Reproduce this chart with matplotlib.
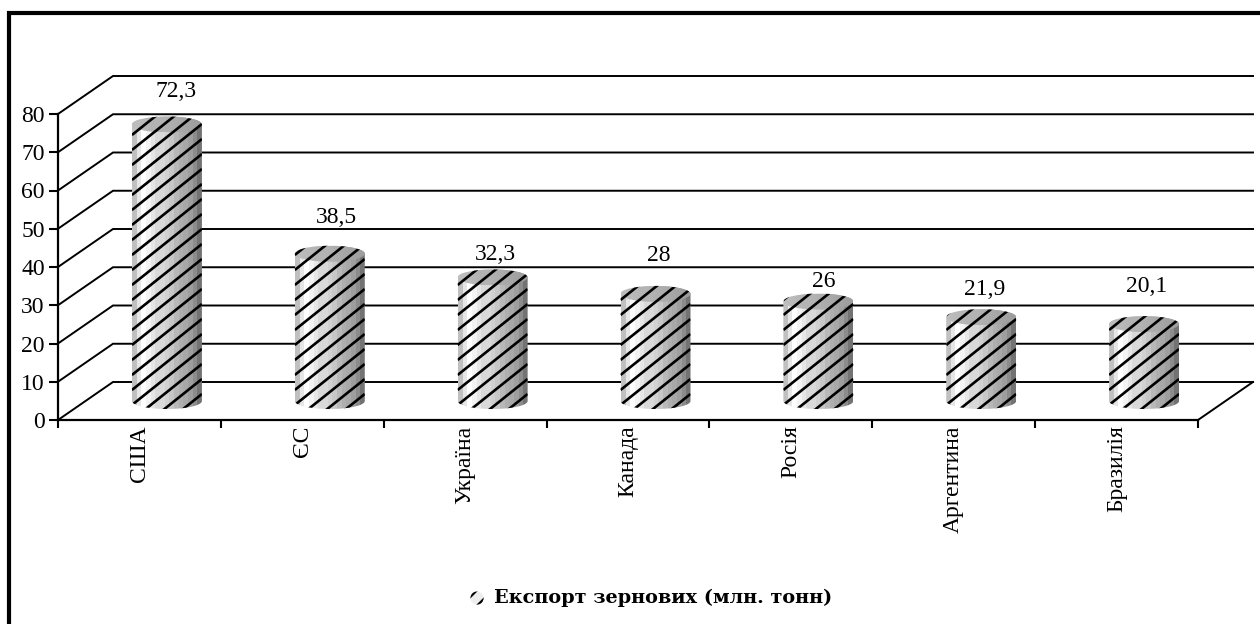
import numpy as np
import matplotlib
matplotlib.use("Agg")
import matplotlib.pyplot as plt
from matplotlib.patches import PathPatch, Rectangle
from matplotlib.path import Path

# значення з діаграми
countries = ["США", "ЄС", "Україна", "Канада", "Росія", "Аргентина", "Бразилія"]
export_values = [72.3, 38.5, 32.3, 28, 26, 21.9, 20.1]
value_labels = ["72,3", "38,5", "32,3", "28", "26", "21,9", "20,1"]
y_ticks = [0, 10, 20, 30, 40, 50, 60, 70, 80]
legend_label = "Експорт зернових (млн. тонн)"

# зсуви підписів над циліндрами (пікселі відносно верху)
label_dx = [9, 7, 3, 3, 5, 3, 3]
label_dy = [33, 36, 23, 38, 20, 28, 38]

W, H = 1260, 624
PX_X = 1 / 162.86       # один піксель в одиницях категорій
PX_Y = 1 / 3.825        # один піксель в одиницях значень
DEPTH_X = 55 * PX_X     # глибина "підлоги"
DEPTH_Y = 38 * PX_Y
BAR_HW = 35 * PX_X
BAR_HH = 8 * PX_Y
STRIPE_STEP = 15 * PX_Y  # крок смуг по вертикалі
STRIPE_RISE = 0.8 * PX_Y / PX_X

plt.rcParams["font.family"] = ["Liberation Serif", "DejaVu Serif"]
plt.rcParams["hatch.linewidth"] = 2.2

fig = plt.figure(figsize=(W / 100, H / 100), dpi=100)
ax = fig.add_axes([58 / W, 1 - 420 / H, (1198 - 58) / W, (420 - 114) / H])
ax.set_xlim(0, len(countries))
ax.set_ylim(0, 80)

# рамка, обрізана правим і нижнім краями
fig.add_artist(Rectangle((9 / W, -0.05), 1.1, 1.05 - 13 / H, transform=fig.transFigure,
                         fill=False, ec="black", lw=3))

# "стіна" та бокові лінії
for v in y_ticks:
    ax.plot([0, DEPTH_X, len(countries) + DEPTH_X], [v, v + DEPTH_Y, v + DEPTH_Y],
            color="black", lw=1.4, clip_on=False, zorder=1, solid_joinstyle="miter")
ax.plot([len(countries), len(countries) + DEPTH_X], [0, DEPTH_Y], color="black", lw=1.4,
        clip_on=False, zorder=1)

# градієнт бокової поверхні циліндра, грані видно як смуги
shade = np.array([0.75, 0.90, 1.0, 0.95, 0.90, 0.85, 0.85, 0.82, 0.78, 0.72, 0.68,
                  0.66, 0.62, 0.55, 0.45])[None, :]
top_shade = np.array([0.74, 0.72, 0.70, 0.70, 0.68, 0.66, 0.64, 0.62])[None, :]

t = np.linspace(0, np.pi, 40)
for i, val in enumerate(export_values):
    cx = i + 0.5 + DEPTH_X / 2
    base = DEPTH_Y / 2
    top = val + base
    x_l, x_r = cx - BAR_HW, cx + BAR_HW

    xs = np.r_[cx - BAR_HW * np.cos(t), cx + BAR_HW * np.cos(t)]
    ys = np.r_[base - BAR_HH * np.sin(t), top + BAR_HH * np.sin(t)]
    body = Path(np.c_[xs, ys])
    body_patch = PathPatch(body, transform=ax.transData, fc="none", ec="none")
    ax.add_patch(body_patch)
    im = ax.imshow(shade, cmap="gray", vmin=0, vmax=1, aspect="auto", interpolation="nearest",
                   extent=(x_l, x_r, base - BAR_HH, top + BAR_HH), zorder=2)
    im.set_clip_path(body_patch)

    # верхня кришка
    lid = Path(np.c_[cx + BAR_HW * np.cos(2 * t), top + BAR_HH * np.sin(2 * t)])
    lid_patch = PathPatch(lid, transform=ax.transData, fc="none", ec="none")
    ax.add_patch(lid_patch)
    im2 = ax.imshow(top_shade, cmap="gray", vmin=0, vmax=1, aspect="auto", interpolation="bilinear",
                    extent=(x_l, x_r, top - BAR_HH, top + BAR_HH), zorder=3)
    im2.set_clip_path(lid_patch)

    # смуги: нахил менший за 45 градусів, тому не hatch
    rise = STRIPE_RISE * (x_r - x_l)
    for y0 in np.arange(base - BAR_HH - rise, top + BAR_HH, STRIPE_STEP):
        stripe, = ax.plot([x_l, x_r], [y0, y0 + rise], color="black", lw=1.9, zorder=4,
                          solid_capstyle="butt")
        stripe.set_clip_path(body_patch)

    ax.annotate(value_labels[i], (cx, top), xytext=(label_dx[i] * 0.72, label_dy[i] * 0.72),
                textcoords="offset points", ha="center", va="center", fontsize=17, color="black",
                zorder=5)

ax.set_xlim(0, len(countries))
ax.set_ylim(0, 80)

for side in ["top", "right"]:
    ax.spines[side].set_visible(False)
for side in ["left", "bottom"]:
    ax.spines[side].set_linewidth(1.6)
    ax.spines[side].set_zorder(6)

ax.set_yticks(y_ticks)
ax.set_xticks(range(len(countries) + 1))
ax.set_xticklabels([])
ax.set_xticks(np.arange(len(countries)) + 0.5, minor=True)
ax.set_xticklabels(countries, minor=True, rotation=90, fontsize=17, va="top", ha="center")
ax.tick_params(axis="y", length=6.5, width=1.5, labelsize=17, pad=3)
ax.tick_params(axis="x", which="major", length=6, width=1.5)
ax.tick_params(axis="x", which="minor", length=0, pad=4)

# легенда
swatch = ax.scatter([], [], s=90, marker="o", fc="#eeeeee", ec="black", hatch="//", lw=0)
fig.legend([swatch], [legend_label], loc="center", bbox_to_anchor=(650 / W, 1 - 598 / H),
           frameon=False, handlelength=1, handletextpad=0.4, scatterpoints=1,
           prop={"family": "DejaVu Serif", "weight": "bold", "size": 13.9})

fig.savefig("out.png", dpi=100)
plt.close(fig)
